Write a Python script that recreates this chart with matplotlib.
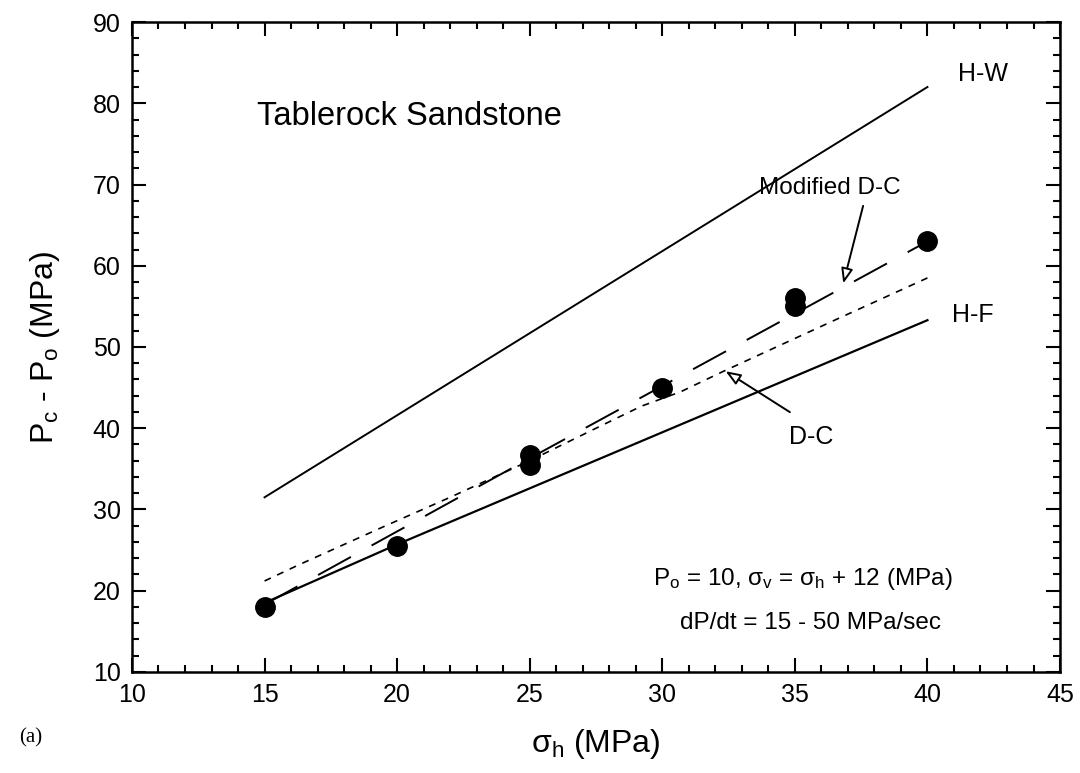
import matplotlib
matplotlib.use("Agg")
import matplotlib.pyplot as plt
from matplotlib.ticker import MultipleLocator

plt.rcParams['font.family'] = ['Liberation Sans', 'DejaVu Sans']
plt.rcParams['mathtext.fontset'] = 'custom'
plt.rcParams['mathtext.rm'] = 'Liberation Sans'
plt.rcParams['mathtext.it'] = 'Liberation Sans'
plt.rcParams['mathtext.bf'] = 'Liberation Sans:bold'
plt.rcParams['lines.scale_dashes'] = False

# Data
data_x = [15, 20, 25, 25, 30, 35, 35, 40]
data_y = [18, 25.5, 36.7, 35.5, 45, 56, 55, 63]

hw_x = [15, 20, 25, 30, 35, 40]
hw_y = [31.5, 41.6, 51.7, 61.8, 71.9, 82]

hf_x = [15, 20, 25, 30, 35, 40]
hf_y = [18.5, 25.7, 32.6, 39.5, 46.4, 53.3]

mdc_x = [15, 20, 25, 30, 35, 40]
mdc_y = [18.3, 27.3, 36.3, 45.2, 54.1, 63]

dc_x = [15, 16.3, 19.5, 22, 25, 27.5, 29.2, 30.7, 32.3, 34.5, 36.7, 40]
dc_y = [21.2, 23.2, 27.9, 31.5, 36.0, 40.0, 42.7, 44.5, 47.0, 50.3, 53.6, 58.5]

xticks = [10, 15, 20, 25, 30, 35, 40, 45]
yticks = [10, 20, 30, 40, 50, 60, 70, 80, 90]

fig = plt.figure(figsize=(10.8, 7.73), dpi=100)
ax = fig.add_axes([0.1222, 0.1307, 0.8593, 0.8408])

ax.plot(hw_x, hw_y, color='black', lw=1.4)
ax.plot(hf_x, hf_y, color='black', lw=1.6)
ax.plot(mdc_x, mdc_y, color='black', lw=1.4, dashes=(27, 17))
ax.plot(dc_x, dc_y, color='black', lw=1.2, dashes=(5, 5))
ax.plot(data_x, data_y, 'o', color='black', markersize=14, zorder=5)

ax.set_xlim(10, 45)
ax.set_ylim(10, 90)
ax.set_xticks(xticks)
ax.set_yticks(yticks)
ax.xaxis.set_minor_locator(MultipleLocator(1))
ax.yaxis.set_minor_locator(MultipleLocator(2))
ax.tick_params(which='both', direction='in', top=True, right=True, width=1.5)
ax.tick_params(which='major', length=10, labelsize=18, pad=8)
ax.tick_params(which='minor', length=5)
for s in ax.spines.values():
    s.set_linewidth(1.8)

ax.set_xlabel(r'$\mathregular{\sigma_h}$ (MPa)', fontsize=23, labelpad=14)
ax.set_ylabel(r'$\mathregular{P_c}$ - $\mathregular{P_o}$ (MPa)', fontsize=23, labelpad=22)

ax.text(14.7, 78.4, 'Tablerock Sandstone', fontsize=23.5, va='center', ha='left')
ax.text(42.1, 83.6, 'H-W', fontsize=18, va='center', ha='center')
ax.text(41.7, 54.0, 'H-F', fontsize=18, va='center', ha='center')
ax.text(36.3, 69.6, 'Modified D-C', fontsize=17.5, va='center', ha='center')
ax.text(35.6, 38.9, 'D-C', fontsize=18, va='center', ha='center')

ax.annotate('', xy=(36.8, 57.5), xytext=(37.6, 67.7),
            arrowprops=dict(arrowstyle='-|>,head_length=0.9,head_width=0.35', fc='white', ec='black', lw=1.4))
ax.annotate('', xy=(32.3, 47.2), xytext=(34.9, 41.8),
            arrowprops=dict(arrowstyle='-|>,head_length=0.9,head_width=0.35', fc='white', ec='black', lw=1.4))

ax.text(40.95, 21.5, r'$\mathregular{P_o}$ = 10, $\mathregular{\sigma_v}$ = $\mathregular{\sigma_h}$ + 12 (MPa)',
        fontsize=17.5, ha='right', va='center')
ax.text(40.5, 16.0, 'dP/dt = 15 - 50 MPa/sec', fontsize=17.5, ha='right', va='center')

fig.text(0.018, 0.045, '(a)', fontsize=15, family='Liberation Serif', va='center', ha='left')

fig.savefig('out.png', dpi=100)
